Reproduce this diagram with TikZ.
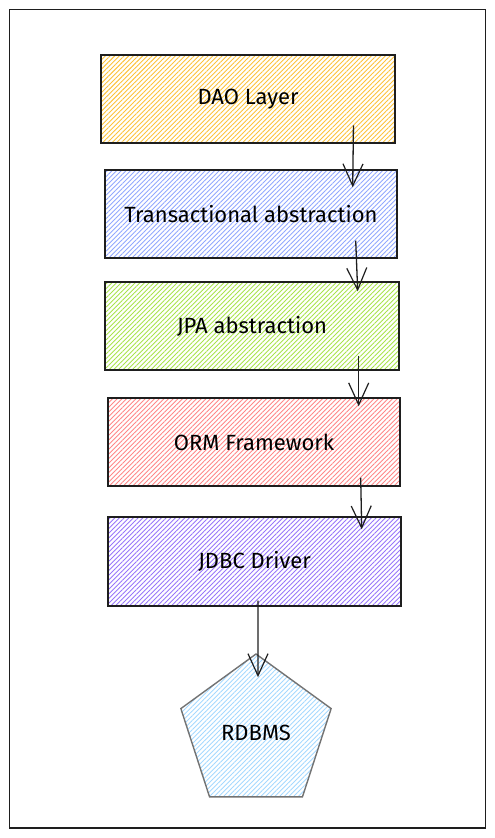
\documentclass[tikz,border=0pt]{standalone}
\usepackage{fontspec}
\setmainfont{Fira Sans}
\usepackage{tikz}
\usetikzlibrary{arrows.meta}
\usetikzlibrary{patterns,patterns.meta}
\usetikzlibrary{shapes,shapes.geometric}
\definecolor{inkline}{HTML}{1E1E1E}
\definecolor{hatchdao}{HTML}{FCC23B}
\definecolor{hatchtx}{HTML}{91A7FF}
\definecolor{hatchjpa}{HTML}{A9E34B}
\definecolor{hatchorm}{HTML}{FF8787}
\definecolor{hatchjdbc}{HTML}{9775FA}
\definecolor{hatchdb}{HTML}{A5D8FF}
\tikzset{
	layer/.style={draw=inkline,line width=1.4pt,minimum width=293pt,minimum height=88pt,inner sep=0pt,
		pattern={Lines[angle=45,distance=3.3pt,line width=0.9pt]},font=\fontsize{22}{26}\selectfont},
	flow/.style={draw=inkline,line width=1.3pt,-{Straight Barb[length=22pt,width=20pt,line width=1.2pt]}}
}

\begin{document}
\begin{tikzpicture}[x=1pt,y=-1pt]
			\useasboundingbox (0,0) rectangle (495,838);
			\draw [inkline,line width=1.4pt] (9.5,9.5) rectangle (485.5,828);
			
			\node [layer,pattern color=hatchdao,minimum width=294pt] (dao) at (248,99) {DAO Layer};
			\node [layer,pattern color=hatchtx,minimum width=292pt] (tx) at (251,214) {Transactional abstraction};
			\node [layer,pattern color=hatchjpa,minimum width=294pt] (jpa) at (252,326) {JPA abstraction};
			\node [layer,pattern color=hatchorm,minimum width=292pt] (orm) at (254,442) {ORM Framework};
			\node [layer,pattern color=hatchjdbc,minimum height=89pt] (jdbc) at (254.5,561.5) {JDBC Driver};
			\node [regular polygon,regular polygon sides=5,minimum size=158pt,inner sep=0pt,
				draw=gray!90!black,line width=1.4pt,pattern={Lines[angle=45,distance=3.3pt,line width=0.9pt]},
				pattern color=hatchdb,font=\fontsize{22}{26}\selectfont] (rdbms) at (256,733) {RDBMS};
			
			\draw [flow] ([xshift=-42pt,yshift=18pt]dao.south east) -- ([xshift=-45pt,yshift=-18pt]tx.north east);
			\draw [flow] ([xshift=-42pt,yshift=18pt]tx.south east) -- ([xshift=-42pt,yshift=-10pt]jpa.north east);
			\draw [flow] ([xshift=-41pt,yshift=15pt]jpa.south east) -- ([xshift=-42pt,yshift=-9pt]orm.north east);
			\draw [flow] ([xshift=-40pt,yshift=9pt]orm.south east) -- ([xshift=-40pt,yshift=-13pt]jdbc.north east);
			\draw [flow] ([xshift=3.5pt,yshift=6pt]jdbc.south) -- ([xshift=2pt,yshift=-24pt]rdbms.north);
\end{tikzpicture}
\end{document}
